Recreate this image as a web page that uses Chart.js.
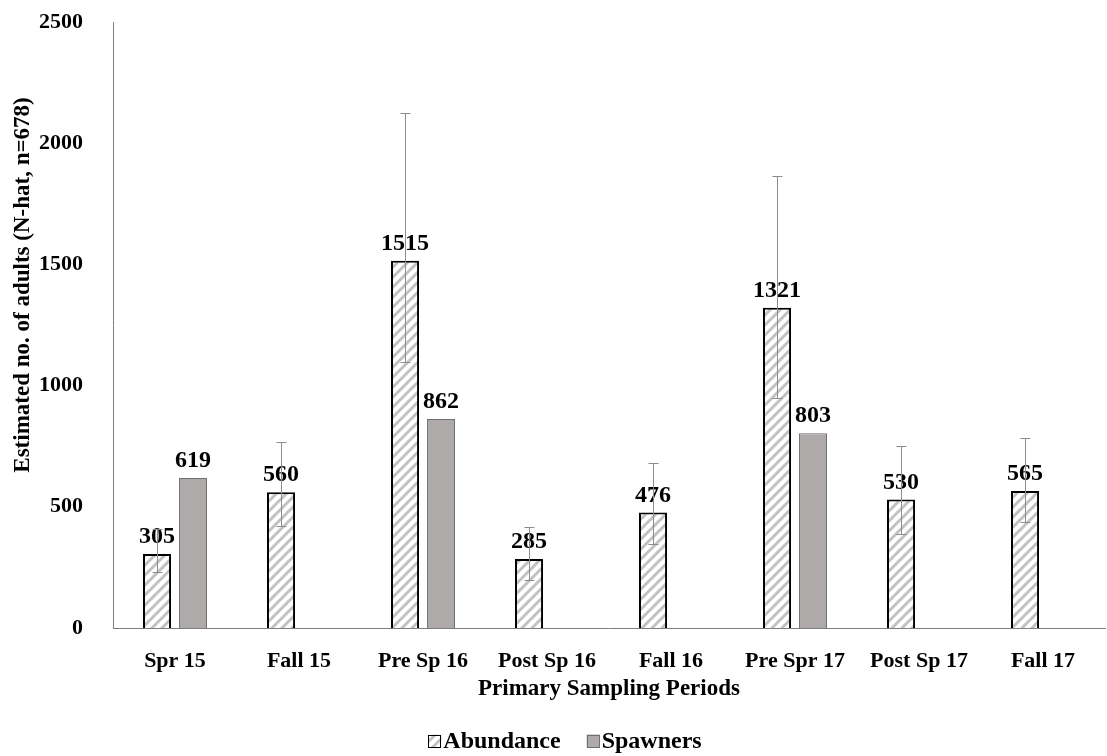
<!DOCTYPE html>
<html>
<head>
<meta charset="utf-8">
<script src="https://cdn.jsdelivr.net/npm/chart.js@4.4.1/dist/chart.umd.min.js"></script>
<style>
  html, body { margin: 0; padding: 0; background: #fff; }
  #wrap { width: 1107px; height: 756px; }
</style>
</head>
<body>
<div id="wrap"><canvas id="chart" width="1107" height="756"></canvas></div>
<script>
// ---- data ----
const periods = ['Spr 15', 'Fall 15', 'Pre Sp 16', 'Post Sp 16', 'Fall 16', 'Pre Spr 17', 'Post Sp 17', 'Fall 17'];
const abundance = [305, 560, 1515, 285, 476, 1321, 530, 565];
const spawners = [619, null, 862, null, null, 803, null, null];
const abundLow = [231, 421, 1097, 198, 345, 949, 388, 437];
const abundHigh = [410, 767, 2125, 415, 681, 1865, 751, 784];
const yTicks = [0, 500, 1000, 1500, 2000, 2500];
const yTitle = 'Estimated no. of adults (N-hat, n=678)';

const FONT = '"Liberation Serif", "Times New Roman", serif';

// hatch pattern for abundance bars
function makeHatch() {
    const size = 10;
    const c = document.createElement('canvas');
    c.width = size; c.height = size;
    const g = c.getContext('2d');
    g.fillStyle = '#ffffff';
    g.fillRect(0, 0, size, size);
    g.strokeStyle = '#c2c2c2';
    g.lineWidth = 3;
    g.beginPath();
    g.moveTo(-2, size + 2); g.lineTo(size + 2, -2);
    g.moveTo(-2, 2); g.lineTo(2, -2);
    g.moveTo(size - 2, size + 2); g.lineTo(size + 2, size - 2);
    g.stroke();
    return document.getElementById('chart').getContext('2d').createPattern(c, 'repeat');
}
const hatch = makeHatch();

// value labels above bars
const valueLabels = {
    id: 'valueLabels',
    afterDatasetsDraw(chart) {
        const ctx = chart.ctx;
        ctx.save();
        ctx.font = 'bold 24px ' + FONT;
        ctx.fillStyle = '#000';
        ctx.textAlign = 'center';
        ctx.textBaseline = 'alphabetic';
        chart.data.datasets.forEach((ds, di) => {
            chart.getDatasetMeta(di).data.forEach((bar, i) => {
                if (ds.data[i] == null) return;
                ctx.fillText(ds.data[i], bar.x, bar.y - 11);
            });
        });
        ctx.restore();
    }
};

// error bars on abundance
const errorBars = {
    id: 'errorBars',
    afterDatasetsDraw(chart) {
        const ctx = chart.ctx;
        const y = chart.scales.y;
        const meta = chart.getDatasetMeta(0);
        ctx.save();
        ctx.strokeStyle = '#8c8c8c';
        ctx.lineWidth = 1;
        meta.data.forEach((bar, i) => {
            const x = Math.round(bar.x) + 0.5;
            const top = Math.round(y.getPixelForValue(abundHigh[i])) + 0.5;
            const bot = Math.round(y.getPixelForValue(abundLow[i])) + 0.5;
            ctx.beginPath();
            ctx.moveTo(x, top); ctx.lineTo(x, bot);
            ctx.moveTo(x - 5, top); ctx.lineTo(x + 5, top);
            ctx.moveTo(x - 5, bot); ctx.lineTo(x + 5, bot);
            ctx.stroke();
        });
        ctx.restore();
    }
};

// y axis title (sits a bit above the middle of the axis, as in the original)
const yAxisTitle = {
    id: 'yAxisTitle',
    afterDraw(chart) {
        const ctx = chart.ctx;
        ctx.save();
        ctx.translate(23, 285);
        ctx.rotate(-Math.PI / 2);
        ctx.font = 'bold 23px ' + FONT;
        ctx.fillStyle = '#000';
        ctx.textAlign = 'center';
        ctx.textBaseline = 'middle';
        ctx.fillText(yTitle, 0, 0);
        ctx.restore();
    }
};

// legend drawn by hand, taking the fill/border from the datasets
const bottomLegend = {
    id: 'bottomLegend',
    afterDraw(chart) {
        const ctx = chart.ctx;
        const box = 13, gap = 2, spacing = 26, cy = 741;
        ctx.save();
        ctx.font = 'bold 24px ' + FONT;
        const items = chart.data.datasets.map(ds => ({ ds, w: ctx.measureText(ds.label).width }));
        const total = items.reduce((s, it) => s + box + gap + it.w, 0) + spacing * (items.length - 1);
        let x = 565 - total / 2;
        items.forEach(it => {
            ctx.fillStyle = it.ds.backgroundColor;
            ctx.fillRect(x, cy - box / 2, box, box);
            ctx.strokeStyle = it.ds.borderColor;
            ctx.lineWidth = 1;
            ctx.strokeRect(Math.round(x) + 0.5, Math.round(cy - box / 2) + 0.5, box - 1, box - 1);
            ctx.fillStyle = '#000';
            ctx.textAlign = 'left';
            ctx.textBaseline = 'middle';
            ctx.fillText(it.ds.label, x + box + gap, cy + 1);
            x += box + gap + it.w + spacing;
        });
        ctx.restore();
    }
};

new Chart(document.getElementById('chart'), {
    type: 'bar',
    data: {
        labels: periods,
        datasets: [
            {
                label: 'Abundance',
                data: abundance,
                backgroundColor: hatch,
                borderColor: '#000',
                borderWidth: 2,
                categoryPercentage: 0.58,
                barPercentage: 0.78
            },
            {
                label: 'Spawners',
                data: spawners,
                backgroundColor: '#aeaaaa',
                borderColor: '#6f6f6f',
                borderWidth: 1,
                categoryPercentage: 0.58,
                barPercentage: 0.78
            }
        ]
    },
    options: {
        responsive: false,
        animation: false,
        layout: { padding: { left: 0, right: 2, top: 0, bottom: 48 } },
        plugins: {
            tooltip: { enabled: false },
            legend: { display: false }
        },
        scales: {
            x: {
                afterFit(scale) { scale.height = 80; },
                grid: { display: false, drawTicks: false },
                border: { color: '#7f7f7f', width: 1 },
                ticks: {
                    color: '#000',
                    padding: 20,
                    font: { family: FONT, size: 22, weight: 'bold' }
                },
                title: {
                    display: true,
                    text: 'Primary Sampling Periods',
                    color: '#000',
                    padding: { top: 0, bottom: 5 },
                    font: { family: FONT, size: 23, weight: 'bold' }
                }
            },
            y: {
                min: 0,
                max: 2500,
                afterBuildTicks(scale) { scale.ticks = yTicks.map(v => ({ value: v })); },
                afterFit(scale) {
                    scale.width = 113;
                    scale.paddingTop = 22;
                    scale.paddingBottom = 0;
                },
                grid: { display: false, drawTicks: false },
                border: { color: '#7f7f7f', width: 1 },
                ticks: {
                    color: '#000',
                    padding: 30,
                    callback: v => String(v),
                    font: { family: FONT, size: 22, weight: 'bold' }
                }
            }
        }
    },
    plugins: [valueLabels, errorBars, yAxisTitle, bottomLegend]
});
</script>
</body>
</html>
